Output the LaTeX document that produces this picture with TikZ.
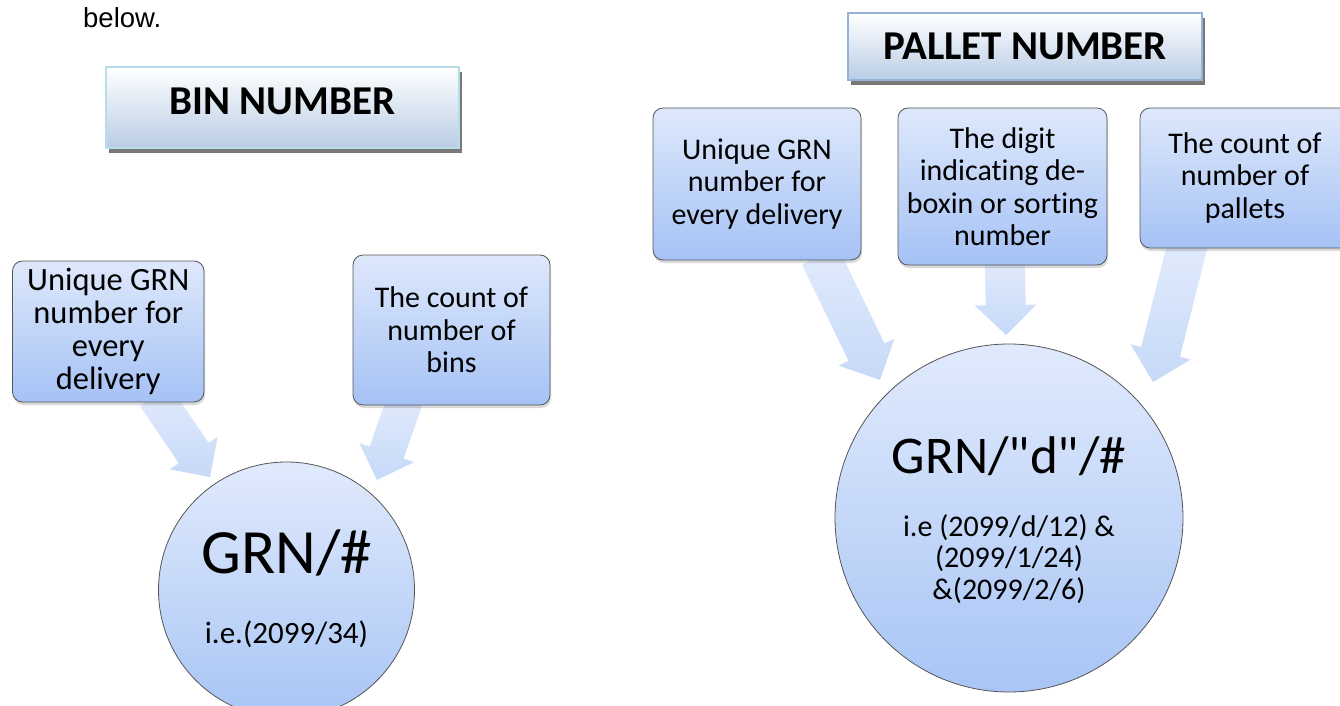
\documentclass[tikz,border=0pt]{standalone}
\usepackage{fontspec}
\setmainfont{Carlito}[Ligatures={TeXOff,NoCommon}]
\newfontfamily\arialf{Liberation Sans}
\usetikzlibrary{calc,shadows}
\definecolor{boxtop}{RGB}{222,232,251}
\definecolor{boxbot}{RGB}{165,194,245}
\definecolor{circtop}{RGB}{225,234,252}
\definecolor{circbot}{RGB}{168,197,245}
\definecolor{arrtop}{RGB}{226,235,252}
\definecolor{arrbot}{RGB}{198,217,248}
\definecolor{hdrbot}{RGB}{185,205,229}
\definecolor{bincol}{RGB}{183,221,232}
\definecolor{palcol}{RGB}{149,179,215}
\definecolor{edgegray}{RGB}{85,85,85}
\definecolor{shadowgray}{RGB}{120,120,120}
\tikzset{
  sabox/.style={draw=edgegray, line width=0.8pt, rounded corners=10pt,
    top color=boxtop, bottom color=boxbot, align=center, inner sep=0pt,
    font=\fontsize{30}{32.5}\selectfont,
    drop shadow={opacity=0.3, shadow xshift=1pt, shadow yshift=-3pt}},
  circ/.style={circle, draw=edgegray, line width=0.8pt,
    top color=circtop, bottom color=circbot, inner sep=0pt},
  hdr/.style={draw=#1, line width=1.8pt, top color=white, bottom color=hdrbot,
    inner sep=0pt, general shadow={fill=shadowgray, shadow xshift=3pt, shadow yshift=-5pt}},
  hdrtext/.style={anchor=base, inner sep=0pt, font=\bfseries\fontsize{41}{45}\selectfont},
  bigtext/.style={anchor=base, inner sep=0pt},
  arrowfill/.style={top color=arrtop, bottom color=arrbot, draw=none},
}
\newcommand{\blockarr}[5]{%
  \coordinate (#1H) at ($(#2)!#5!(#1)$);
  \shade[arrowfill] ($(#1)!#3!90:(#2)$) -- ($(#1H)!#3!90:(#2)$) -- ($(#1H)!#4!90:(#2)$)
    -- (#2) -- ($(#1H)!#4!-90:(#2)$) -- ($(#1H)!#3!-90:(#2)$) -- ($(#1)!#3!-90:(#2)$) -- cycle;
}
\begin{document}
\begin{tikzpicture}[x=1pt,y=-1pt]
\useasboundingbox (0,0) rectangle (1340,706);

\node[anchor=base west, inner sep=0pt, font=\arialf\fontsize{27.5}{30}\selectfont] (below) at (83,28) {below.};

% ---------- connectors (block arrows) ----------
\coordinate (a1s) at (155,396);  \coordinate (a1t) at (210,477);
\coordinate (a2s) at (405,400);  \coordinate (a2t) at (377,480);
\coordinate (a3s) at (820,256);  \coordinate (a3t) at (880,380);
\coordinate (a4s) at (1005,260); \coordinate (a4t) at (1006,335);
\coordinate (a5s) at (1188,243); \coordinate (a5t) at (1153,382);
\blockarr{a1s}{a1t}{18pt}{29pt}{29pt}
\blockarr{a2s}{a2t}{18pt}{29pt}{29pt}
\blockarr{a3s}{a3t}{20pt}{31pt}{31pt}
\blockarr{a4s}{a4t}{20pt}{31pt}{30pt}
\blockarr{a5s}{a5t}{20pt}{31pt}{31pt}

% ---------- left diagram ----------
\node[hdr=bincol, minimum width=353pt, minimum height=81pt] (bin) at (282.5,107.5) {};
\node[hdrtext] (bint) at (282.5,114) {BIN NUMBER};

\node[sabox, minimum width=191.5pt, minimum height=141pt, font=\fontsize{32.5}{33}\selectfont] (lb) at (108.25,331.5)
  {Unique GRN\\number for\\every\\delivery};
\node[sabox, minimum width=197pt, minimum height=150pt] (rb) at (451.5,330)
  {The count of\\number of\\bins};

\node[circ, minimum size=256pt] (c1) at (286.5,590) {};
\node[bigtext, font=\fontsize{63}{70}\selectfont] (c1a) at (286.5,573) {GRN/\#};
\node[bigtext, font=\fontsize{31}{34}\selectfont] (c1b) at (286.5,643) {i.e.(2099/34)};

% ---------- right diagram ----------
\node[hdr=palcol, minimum width=354pt, minimum height=67pt] (pal) at (1025,46.5) {};
\node[hdrtext] (palt) at (1025,60) {PALLET NUMBER};

\node[sabox, minimum width=208pt, minimum height=152pt] (b1) at (757,184)
  {Unique GRN\\number for\\every delivery};
\node[sabox, minimum width=209pt, minimum height=157pt] (b2) at (1002.5,186.5)
  {The digit\\indicating de-\\boxin or sorting\\number};
\node[sabox, minimum width=210pt, minimum height=140pt] (b3) at (1245,178)
  {The count of\\number of\\pallets};

\node[circ, minimum size=348pt] (c2) at (1009,518) {};
\node[bigtext, font=\fontsize{53}{60}\selectfont] (c2a) at (1009,473) {GRN/"d"/\#};
\node[inner sep=0pt, align=center, font=\fontsize{30}{31.5}\selectfont] (c2b) at (1009,559)
  {i.e (2099/d/12) \&\\(2099/1/24)\\\&(2099/2/6)};
\end{tikzpicture}
\end{document}
